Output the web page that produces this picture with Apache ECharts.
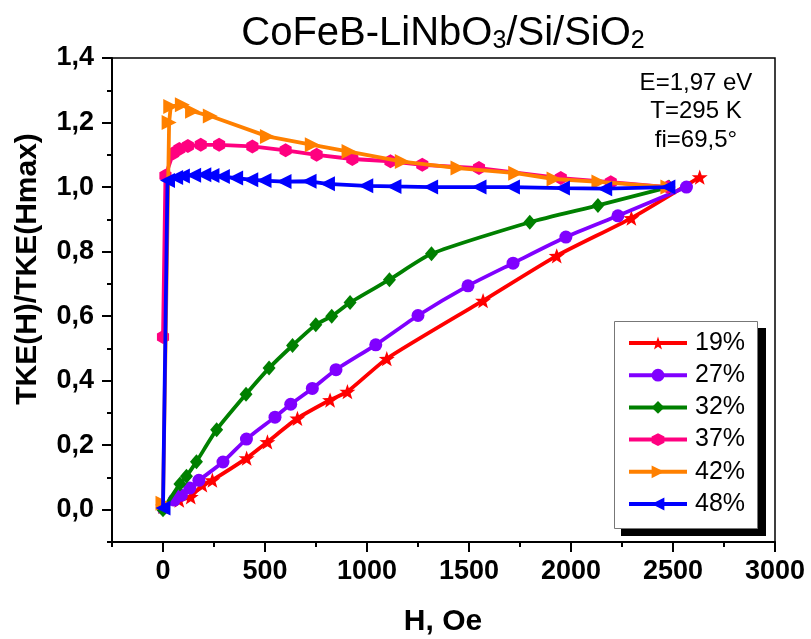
<!DOCTYPE html>
<html>
<head>
<meta charset="utf-8">
<script src="https://cdn.jsdelivr.net/npm/echarts@6/dist/echarts.min.js"></script>
<style>
  html, body { margin: 0; padding: 0; background: #fff; }
  #chart { width: 811px; height: 639px; }
</style>
</head>
<body>
<div id="chart"></div>
<script>
// Normalised TKE(H)/TKE(Hmax) curves, one [H (Oe), ratio] list per sample
const s19 = [[0,0.01],[80,0.03],[136,0.04],[193,0.077],[242,0.092],[410,0.16],[512,0.21],[659,0.283],[819,0.34],[904,0.366],[1097,0.468],[1569,0.648],[1930,0.787],[2296,0.904],[2631,1.031]];
const s27 = [[0,0.005],[55,0.03],[90,0.045],[131,0.067],[176,0.091],[294,0.148],[409,0.219],[549,0.287],[626,0.327],[732,0.376],[848,0.434],[1043,0.511],[1250,0.602],[1495,0.694],[1716,0.764],[1975,0.845],[2230,0.911],[2566,1.0]];
const s32 = [[0,0.0],[83,0.08],[115,0.104],[164,0.149],[263,0.248],[407,0.358],[520,0.439],[635,0.509],[749,0.573],[827,0.6],[917,0.642],[1110,0.713],[1316,0.793],[1798,0.891],[2132,0.943],[2480,1.0]];
const s37 = [[0,0.535],[12,1.035],[50,1.105],[80,1.118],[122,1.127],[185,1.131],[275,1.131],[438,1.126],[601,1.114],[753,1.1],[928,1.087],[1115,1.08],[1271,1.069],[1549,1.059],[1950,1.028],[2195,1.015],[2475,1.0]];
const s42 = [[0,0.02],[30,1.2],[38,1.25],[95,1.255],[145,1.235],[232,1.22],[512,1.157],[732,1.131],[912,1.11],[1173,1.079],[1446,1.059],[1729,1.043],[1917,1.025],[2137,1.016],[2475,1.0]];
const s48 = [[0,0.005],[22,1.02],[62,1.03],[95,1.034],[150,1.037],[200,1.038],[240,1.036],[291,1.033],[356,1.028],[430,1.023],[495,1.02],[593,1.017],[716,1.018],[806,1.01],[994,1.004],[1132,1.002],[1312,1.0],[1549,1.0],[1713,1.0],[1958,0.997],[2165,0.995],[2475,1.0]];

const seriesNames = ['19%', '27%', '32%', '37%', '42%', '48%'];

// Tick positions and labels
const xMajorTicks = [0, 500, 1000, 1500, 2000, 2500, 3000];
const xMinorTicks = [-250, 250, 750, 1250, 1750, 2250, 2750];
const yMajorTicks = [0, 0.2, 0.4, 0.6, 0.8, 1.0, 1.2, 1.4];
const yMinorTicks = [-0.1, 0.1, 0.3, 0.5, 0.7, 0.9, 1.1, 1.3];

const infoLines = ['E=1,97 eV', 'T=295 K', 'fi=69,5\u00b0'];

const FONT = "'Liberation Sans', Arial, sans-serif";
const STAR = 'path://M0,-10L2.35,-3.24L9.51,-3.09L3.8,1.24L5.88,8.09L0,4.2L-5.88,8.09L-3.8,1.24L-9.51,-3.09L-2.35,-3.24Z';
const HEX = 'path://M0,-10L8.66,-5L8.66,5L0,10L-8.66,5L-8.66,-5Z';

const styles = [
  { color: '#ff0000', symbol: STAR, size: 16, rotate: 0, smooth: 0.2 },
  { color: '#8000ff', symbol: 'circle', size: 13, rotate: 0, smooth: 0.2 },
  { color: '#008000', symbol: 'diamond', size: [13, 15], rotate: 0, smooth: 0.2 },
  { color: '#ff0080', symbol: HEX, size: 14, rotate: 0, smooth: false },
  { color: '#ff8000', symbol: 'triangle', size: 15, rotate: -90, smooth: false },
  { color: '#0000ff', symbol: 'triangle', size: 15, rotate: 90, smooth: false }
];
const dataSets = [s19, s27, s32, s37, s42, s48];

const chart = echarts.init(document.getElementById('chart'), null, { renderer: 'canvas' });

const grid = { left: 112, right: 36, top: 58, bottom: 97, show: true, borderColor: '#000', borderWidth: 1.5, backgroundColor: 'transparent' };

function xAxisBase() {
  return { type: 'value', gridIndex: 0, position: 'bottom', min: -250, max: 3000, splitLine: { show: false } };
}
function yAxisBase() {
  return { type: 'value', gridIndex: 0, position: 'left', min: -0.1, max: 1.4, splitLine: { show: false } };
}

const option = {
  animation: false,
  backgroundColor: '#fff',
  grid: grid,
  xAxis: [
    Object.assign(xAxisBase(), {
      axisLine: { show: true, onZero: false, lineStyle: { color: '#000', width: 2 } },
      axisTick: { show: true, inside: false, length: 10, customValues: xMajorTicks, lineStyle: { color: '#000', width: 2 } },
      axisLabel: { show: true, customValues: xMajorTicks, margin: 16, color: '#000', fontFamily: FONT, fontWeight: 'bold', fontSize: 27,
        formatter: v => String(Math.round(v)) }
    }),
    Object.assign(xAxisBase(), {
      axisLine: { show: false, onZero: false },
      axisTick: { show: true, inside: false, length: 5, customValues: xMinorTicks, lineStyle: { color: '#000', width: 2 } },
      axisLabel: { show: false }
    })
  ],
  yAxis: [
    Object.assign(yAxisBase(), {
      axisLine: { show: true, onZero: false, lineStyle: { color: '#000', width: 2 } },
      axisTick: { show: true, inside: false, length: 10, customValues: yMajorTicks, lineStyle: { color: '#000', width: 2 } },
      axisLabel: { show: true, customValues: yMajorTicks, margin: 18, color: '#000', fontFamily: FONT, fontWeight: 'bold', fontSize: 27,
        formatter: v => v.toFixed(1).replace('.', ',') }
    }),
    Object.assign(yAxisBase(), {
      axisLine: { show: false, onZero: false },
      axisTick: { show: true, inside: false, length: 5, customValues: yMinorTicks, lineStyle: { color: '#000', width: 2 } },
      axisLabel: { show: false }
    })
  ],
  legend: {
    orient: 'vertical',
    left: 627,
    top: 330,
    padding: 0,
    itemWidth: 58,
    itemHeight: 16,
    itemGap: 6.2,
    z: 10,
    data: seriesNames,
    lineStyle: { width: 4 },
    textStyle: { color: '#000', fontFamily: FONT, fontSize: 25, lineHeight: 26, padding: [0, 0, 0, 3] }
  },
  series: dataSets.map((d, i) => ({
    name: seriesNames[i],
    type: 'line',
    xAxisIndex: 0,
    yAxisIndex: 0,
    data: d,
    smooth: styles[i].smooth,
    symbol: styles[i].symbol,
    symbolSize: styles[i].size,
    symbolRotate: styles[i].rotate,
    symbolKeepAspect: true,
    showAllSymbol: true,
    color: styles[i].color,
    lineStyle: { color: styles[i].color, width: 3.8 },
    itemStyle: { color: styles[i].color, borderWidth: 0 },
    emphasis: { disabled: true },
    z: 2 + i * 0.01
  })),
  graphic: [
    // chart title with subscripts
    {
      type: 'text', x: 443, y: 31,
      style: {
        text: '{n|CoFeB-LiNbO}{s|3}{n|/Si/SiO}{s|2}',
        align: 'center', verticalAlign: 'middle',
        rich: {
          n: { fontFamily: FONT, fontSize: 40, lineHeight: 46, verticalAlign: 'bottom', fill: '#000' },
          s: { fontFamily: FONT, fontSize: 25, lineHeight: 12, verticalAlign: 'bottom', fill: '#000' }
        }
      }
    },
    // axis titles
    {
      type: 'text', x: 443, y: 622,
      style: { text: 'H, Oe', fontFamily: FONT, fontWeight: 'bold', fontSize: 30, fill: '#000', align: 'center', verticalAlign: 'middle' }
    },
    {
      type: 'text', x: 28, y: 269, rotation: Math.PI / 2,
      style: { text: 'TKE(H)/TKE(Hmax)', fontFamily: FONT, fontWeight: 'bold', fontSize: 30, fill: '#000', align: 'center', verticalAlign: 'middle' }
    },
    // measurement conditions
    ...infoLines.map((t, i) => ({
      type: 'text', x: 696, y: 83 + i * 28.5,
      style: { text: t, fontFamily: FONT, fontSize: 24, fill: '#000', align: 'center', verticalAlign: 'middle' }
    })),
    // legend frame with drop shadow
    { type: 'rect', z: 5, shape: { x: 621, y: 328, width: 145, height: 208 }, style: { fill: '#000' } },
    { type: 'rect', z: 6, shape: { x: 614.5, y: 321.5, width: 143, height: 207 }, style: { fill: '#fff', stroke: '#777', lineWidth: 1 } }
  ]
};

chart.setOption(option);
</script>
</body>
</html>
